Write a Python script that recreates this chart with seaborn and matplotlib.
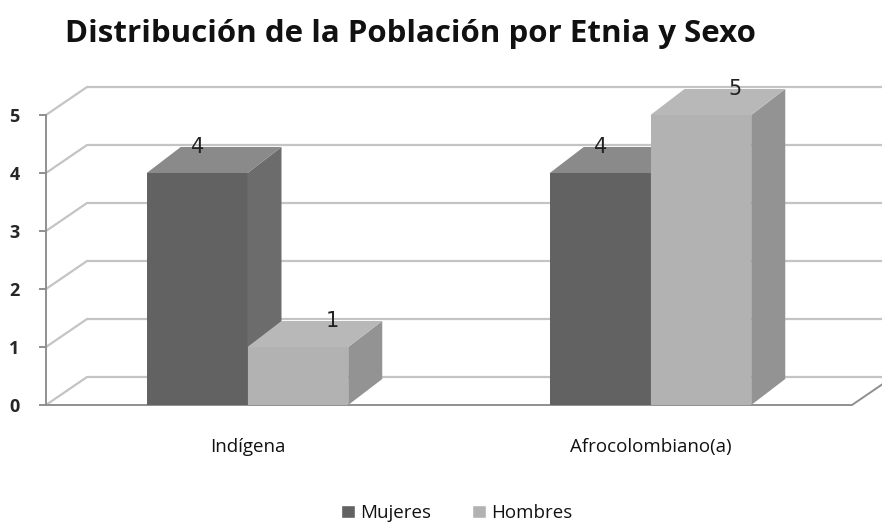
import matplotlib
matplotlib.use("Agg")
import matplotlib.pyplot as plt
import seaborn as sns
import pandas as pd
from matplotlib.patches import Polygon, Patch

# ------------------------------------------------------------
# DATA
# ------------------------------------------------------------
categories = ["Indígena", "Afrocolombiano(a)"]
series = ["Mujeres", "Hombres"]
mujeres = [4, 4]
hombres = [1, 5]
y_ticks = [0, 1, 2, 3, 4, 5]

df = pd.DataFrame({
    "Etnia": categories * 2,
    "Sexo": [series[0]] * 2 + [series[1]] * 2,
    "Valor": mujeres + hombres,
})

front_cols = ["#626262", "#b2b2b2"]
side_cols = ["#6c6c6c", "#939393"]
top_cols = ["#8a8a8a", "#b8b8b8"]
grid_col = "#c4c4c4"
axis_col = "#8f8f8f"

# ------------------------------------------------------------
# FIGURE
# ------------------------------------------------------------
sns.set_theme(style="white")
plt.rcParams["font.family"] = ["Open Sans", "DejaVu Sans"]

fig = plt.figure(figsize=(8.82, 5.24), dpi=100)
W, H = 882, 524
x_left, x_right = 46, 852
y_bot, y_top = 405, 115
ax = fig.add_axes([x_left / W, 1 - y_bot / H,
                   (x_right - x_left) / W, (y_bot - y_top) / H])

sns.barplot(data=df, x="Etnia", y="Valor", hue="Sexo",
            palette=front_cols, width=0.5, gap=0, ax=ax,
            saturation=1, legend=False)

ax.set_xlim(-0.5, 1.5)
ax.set_ylim(0, 5)

# pixel -> data conversion
px_x = 2.0 / (x_right - x_left)
px_y = 5.0 / (y_bot - y_top)
wall_dx, wall_dy = 41 * px_x, 28 * px_y
bar_dx, bar_dy = 34 * px_x, 26 * px_y

# back wall gridlines
for yv in y_ticks:
    ax.plot([-0.5, -0.5 + wall_dx, 1.5 + wall_dx],
            [yv, yv + wall_dy, yv + wall_dy],
            color=grid_col, lw=1.6, zorder=0.5, clip_on=False)

# floor front edge + right diagonal
ax.plot([-0.5, 1.5, 1.5 + wall_dx], [0, 0, wall_dy],
        color=axis_col, lw=1.4, zorder=0.6, clip_on=False)

# 3D faces for bars
for i, cont in enumerate(ax.containers):
    z = 2 + i
    for bar in cont.patches:
        bar.set_zorder(z)
        bar.set_edgecolor("none")
        x0, w, h = bar.get_x(), bar.get_width(), bar.get_height()
        side = Polygon([(x0 + w, 0), (x0 + w + bar_dx, bar_dy),
                        (x0 + w + bar_dx, h + bar_dy), (x0 + w, h)],
                       closed=True, fc=side_cols[i], ec="none",
                       zorder=z, clip_on=False)
        top = Polygon([(x0, h), (x0 + bar_dx, h + bar_dy),
                       (x0 + w + bar_dx, h + bar_dy), (x0 + w, h)],
                      closed=True, fc=top_cols[i], ec="none",
                      zorder=z, clip_on=False)
        ax.add_patch(side)
        ax.add_patch(top)
        # value label
        lx = x0 + w / 2 + (bar_dx if i == 1 else 0)
        ax.text(lx, h + bar_dy, f"{int(h)}", ha="center", va="center",
                fontsize=15, color="#222222", zorder=10,
                family=["DejaVu Sans"])

# axes styling
for s in ["top", "right", "bottom"]:
    ax.spines[s].set_visible(False)
ax.spines["left"].set_color(axis_col)
ax.spines["left"].set_linewidth(1.4)
ax.set_yticks(y_ticks)
ax.tick_params(axis="y", length=5, width=1.4, color=axis_col,
               labelsize=13, pad=14, left=True)
for lab in ax.get_yticklabels():
    lab.set_fontweight("bold")
ax.tick_params(axis="x", length=0, labelsize=13.5, pad=24,
               labelcolor="#111111")
ax.set_xlabel("")
ax.set_ylabel("")
ax.grid(False)

fig.text(0.465, 0.935, "Distribución de la Población por Etnia y Sexo",
         ha="center", va="center", fontsize=22.5, fontweight="bold",
         color="#111111")

# legend
handles = [Patch(fc=front_cols[0]), Patch(fc=front_cols[1])]
leg = fig.legend(handles, series, loc="center", bbox_to_anchor=(0.518, 0.021),
                 ncol=2, frameon=False, fontsize=13.5, handlelength=0.7,
                 handleheight=0.7, columnspacing=2.2, handletextpad=0.3,
                 borderpad=0.0)
for t in leg.get_texts():
    t.set_color("#111111")

fig.savefig("out.png", dpi=100)
